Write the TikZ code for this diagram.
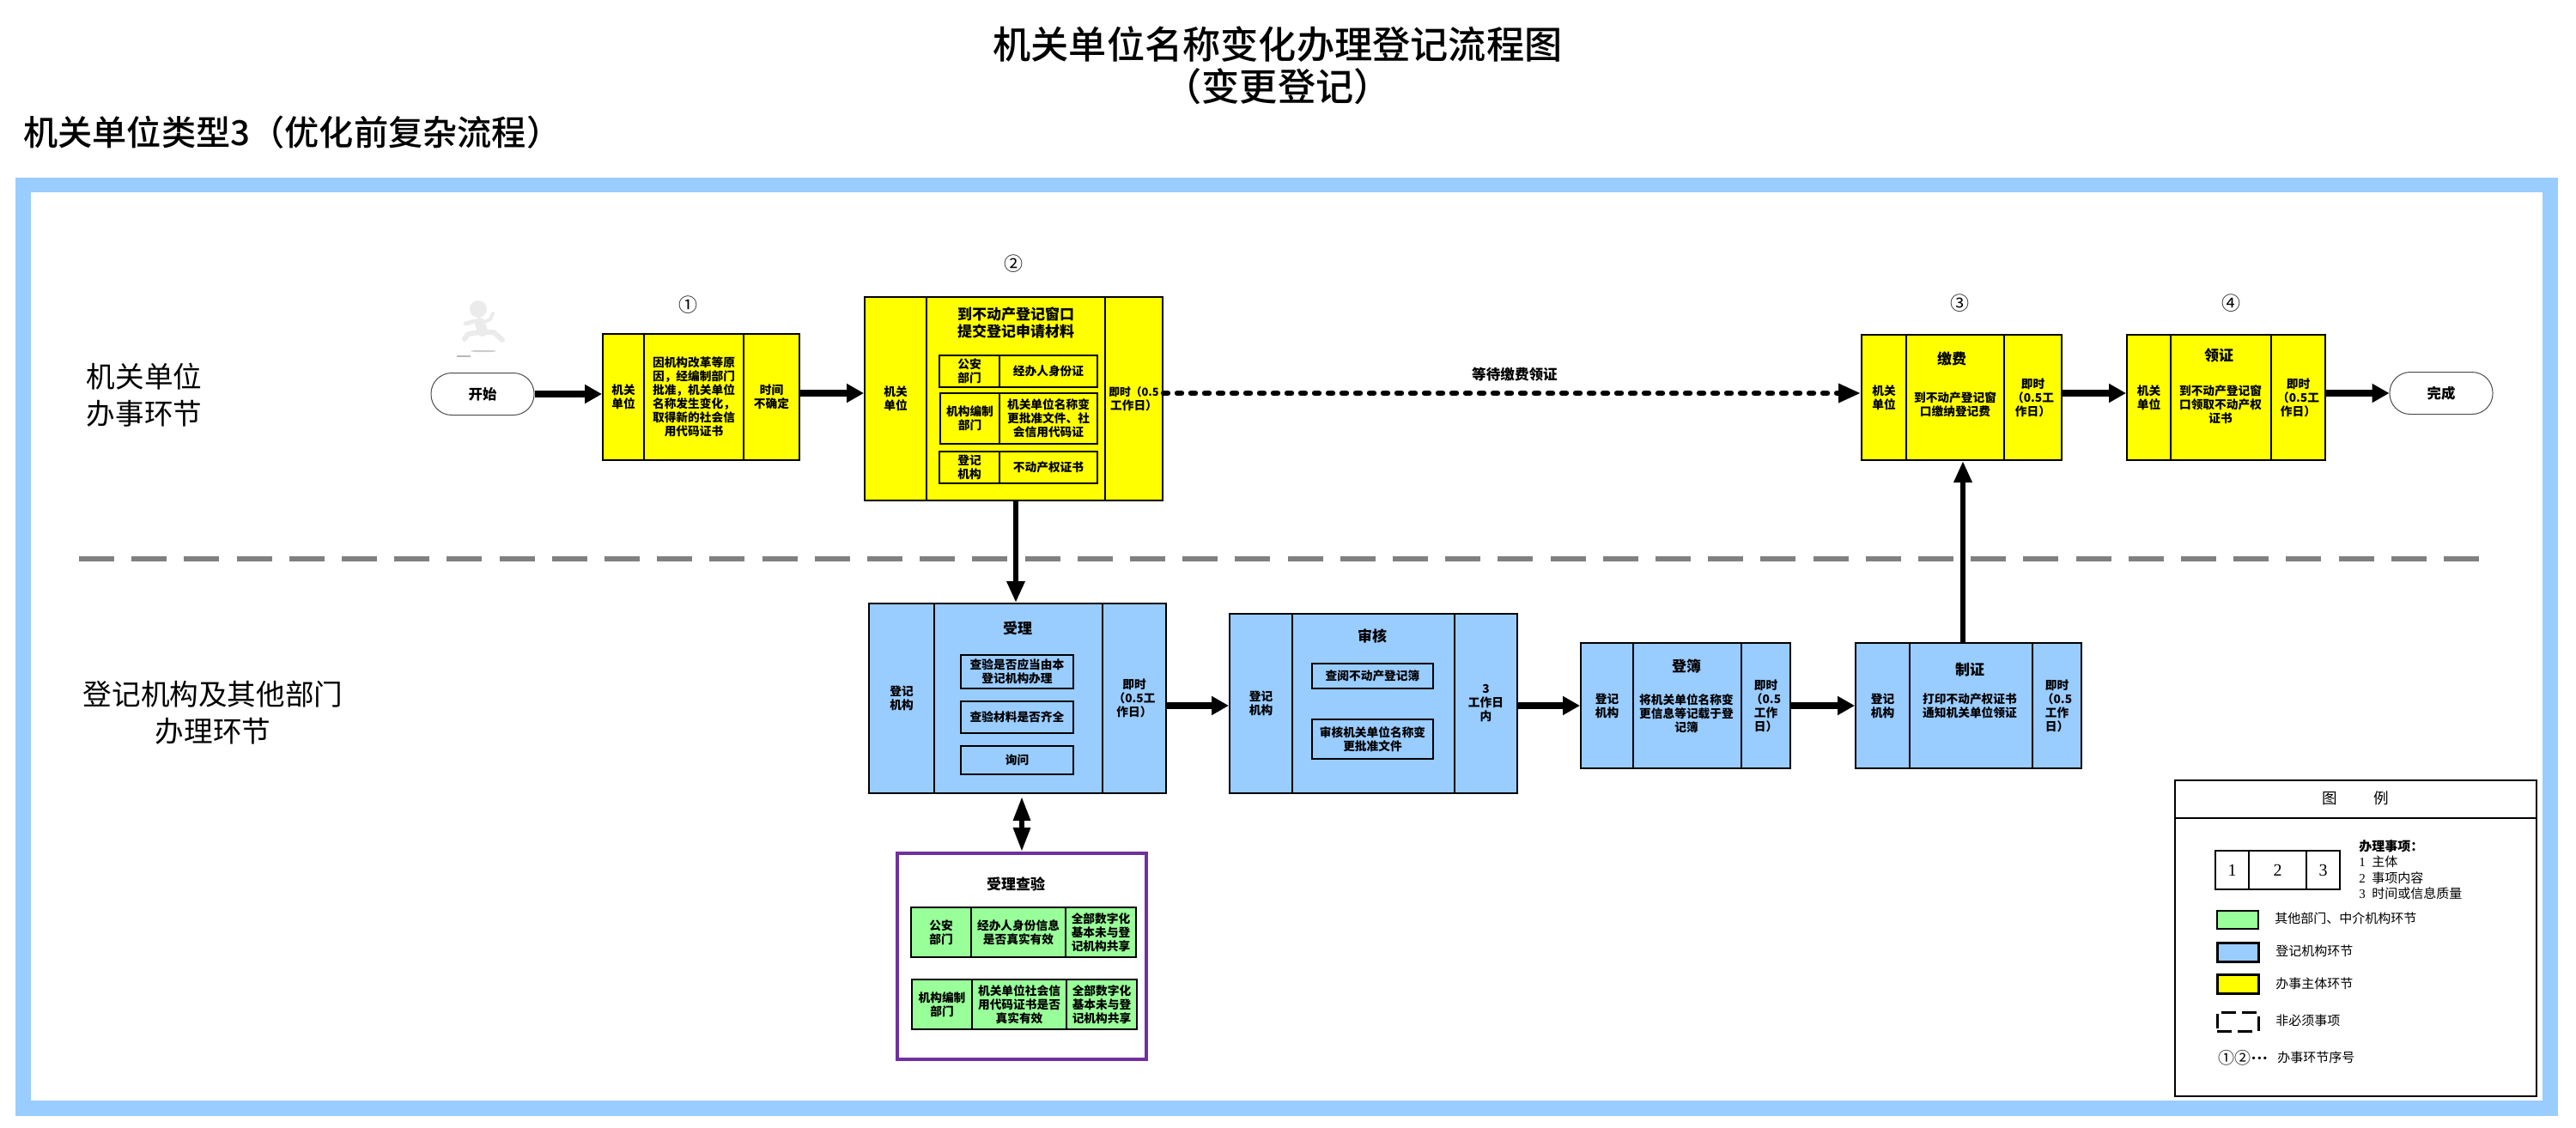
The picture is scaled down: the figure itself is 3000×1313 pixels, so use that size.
\documentclass[tikz,border=0pt]{standalone}
\usepackage{fontspec}
\setmainfont{Noto Sans CJK SC}
\newfontfamily\midfont{Noto Sans CJK SC Medium}
\newfontfamily\digitfont{Liberation Serif}
\usetikzlibrary{arrows.meta}
\definecolor{fyellow}{HTML}{FFFF00}
\definecolor{fblue}{HTML}{99CCFF}
\definecolor{fgreen}{HTML}{99FF99}
\definecolor{fpurple}{HTML}{7030A0}
\definecolor{fgrey}{HTML}{808080}
\newcommand\bodyfont{\fontsize{6.85}{8}\selectfont\bfseries}
\newcommand\headfont{\fontsize{8.5}{10}\selectfont\bfseries}
\newcommand\legfont{\fontsize{7.5}{9}\selectfont}
\newcommand\cellbox[7]{\node[#6,minimum width={(#3-#2)*0.5pt},minimum height={(#5-#4)*0.5pt}] (#1) at ({(#2+#3)/2},{(#4+#5)/2}) {#7};}
\tikzset{
  cellbase/.style={draw=black,line width=1pt,align=center,inner sep=0pt,font=\bodyfont},
  ycell/.style={cellbase,fill=fyellow},
  bcell/.style={cellbase,fill=fblue},
  gcell/.style={cellbase,fill=fgreen},
  wcell/.style={cellbase,fill=white,line width=0.8pt,font=\digitfont\fontsize{10}{12}\selectfont},
  plain/.style={align=center,inner sep=0pt,font=\bodyfont},
  head/.style={align=center,inner sep=0pt,font=\headfont},
  seq/.style={inner sep=0pt,font=\fontsize{11}{12}\selectfont},
  sect/.style={align=center,inner sep=0pt,font=\fontsize{16.8}{21.5}\selectfont},
  leg/.style={anchor=west,inner sep=0pt,font=\legfont},
  term/.style={draw=black!70,line width=0.5pt,fill=white,rounded corners=12pt,inner sep=0pt,font=\fontsize{8.2}{10}\selectfont\bfseries},
  flow/.style={line width=3.6pt,-{Triangle[length=10pt,width=10.5pt]}},
  flowup/.style={line width=3.3pt,-{Triangle[length=12.5pt,width=10pt]}},
  flowdots/.style={line width=3.2pt,line cap=round,dash pattern=on 2.5pt off 5.5pt,-{Triangle[length=13pt,width=10.5pt,line cap=butt]}},
  flowboth/.style={line width=3pt,{Triangle[length=14pt,width=9.5pt]}-{Triangle[length=14pt,width=9.5pt]}},
  limb/.style={line width=3pt,line cap=round,line join=round,draw=black!8},
}
\begin{document}
\begin{tikzpicture}[x=0.5pt,y=-0.5pt]
\useasboundingbox (0,0) rectangle (3000,1313);
% headings
\node[align=center,inner sep=0pt,font=\midfont\fontsize{22.1}{24.5}\selectfont] (maintitle) at (1488,76) {机关单位名称变化办理登记流程图\\（变更登记）};
\node[anchor=west,inner sep=0pt,font=\midfont\fontsize{20.1}{24}\selectfont] (subtitle) at (27,154) {机关单位类型3（优化前复杂流程）};
% outer frame
\draw[fblue,line width=8.75pt] (27,215.5) rectangle (2970,1291);
% section labels
\node[sect] (secA) at (168,460) {机关单位\\办事环节};
\node[sect] (secB) at (248,830) {登记机构及其他部门\\办理环节};
% separator
\coordinate (sepL) at (92,651);
\coordinate (sepR) at (2888,651);
\draw[fgrey,line width=3pt,dash pattern=on 20.5pt off 10.1pt] (sepL) -- (sepR);
% running figure
\fill[black!8] (557,360) circle (10);
\draw[limb,line width=6pt] (559,376) -- (562,386);
\draw[limb,line width=2.4pt] (553,374) -- (542,377);
\draw[limb,line width=2pt] (566,374) -- (571,372) -- (574,365);
\draw[limb] (560,387) -- (545,389) -- (541,395);
\draw[limb] (566,387) -- (575,387) -- (585,396);
\fill[black!20] (563,409) ellipse (15 and 1.2);
\fill[black!28] (532,414) rectangle (548,416);
% rows
\coordinate (rowA) at (0,458);
\coordinate (rowB) at (0,822);
\coordinate (upX) at (2286,0);
% start / end
\node[term,minimum width=60pt,minimum height=24.5pt] (start) at (562,459) {开始};
\node[term,minimum width=60pt,minimum height=24.5pt] (finish) at (2843,458) {完成};
% box 1
\node[seq] (n1) at (801,355) {①};
\cellbox{b1a}{702}{750}{389}{536}{ycell}{机关\\单位}
\cellbox{b1b}{750}{866}{389}{536}{ycell}{因机构改革等原\\因，经编制部门\\批准，机关单位\\名称发生变化，\\取得新的社会信\\用代码证书}
\cellbox{b1c}{866}{931}{389}{536}{ycell}{时间\\不确定}
% box 2
\node[seq] (n2) at (1180,307) {②};
\cellbox{b2a}{1007}{1079}{346}{583}{ycell}{机关\\单位}
\cellbox{b2b}{1079}{1287}{346}{583}{ycell}{}
\cellbox{b2c}{1287}{1354}{346}{583}{ycell}{\fontsize{6.4}{8}\selectfont 即时（0.5\\工作日）}
\node[head] (b2t) at (1183,376) {到不动产登记窗口\\提交登记申请材料};
\cellbox{r1a}{1094}{1164}{414}{451}{ycell}{公安\\部门}
\cellbox{r1b}{1164}{1278}{414}{451}{ycell}{经办人身份证}
\cellbox{r2a}{1095}{1164}{458}{517}{ycell}{机构编制\\部门}
\cellbox{r2b}{1164}{1278}{458}{517}{ycell}{机关单位名称变\\更批准文件、社\\会信用代码证}
\cellbox{r3a}{1094}{1164}{526}{563}{ycell}{登记\\机构}
\cellbox{r3b}{1164}{1278}{526}{563}{ycell}{不动产权证书}
% box 3
\node[seq] (n3) at (2282,353) {③};
\cellbox{b3a}{2168}{2220}{390}{536}{ycell}{机关\\单位}
\cellbox{b3b}{2220}{2334}{390}{536}{ycell}{}
\cellbox{b3c}{2334}{2401}{390}{536}{ycell}{即时\\（0.5工\\作日）}
\node[head] (b3t) at (2273,418) {缴费};
\node[plain] (b3d) at (2277,471) {到不动产登记窗\\口缴纳登记费};
% box 4
\node[seq] (n4) at (2598,353) {④};
\cellbox{b4a}{2477}{2528}{390}{536}{ycell}{机关\\单位}
\cellbox{b4b}{2528}{2645}{390}{536}{ycell}{}
\cellbox{b4c}{2645}{2708}{390}{536}{ycell}{即时\\（0.5工\\作日）}
\node[head] (b4t) at (2584,414) {领证};
\node[plain] (b4d) at (2586,471) {到不动产登记窗\\口领取不动产权\\证书};
% 受理
\cellbox{sla}{1012}{1088}{703}{924}{bcell}{登记\\机构}
\cellbox{slb}{1088}{1284}{703}{924}{bcell}{}
\cellbox{slc}{1284}{1358}{703}{924}{bcell}{即时\\（0.5工\\作日）}
\node[head] (slt) at (1185,732) {受理};
\cellbox{sl1}{1119}{1250}{763}{802}{bcell}{查验是否应当由本\\登记机构办理}
\cellbox{sl2}{1119}{1250}{817}{854}{bcell}{查验材料是否齐全}
\cellbox{sl3}{1119}{1250}{869}{902}{bcell}{询问}
% 审核
\cellbox{sha}{1432}{1505}{715}{924}{bcell}{登记\\机构}
\cellbox{shb}{1505}{1694}{715}{924}{bcell}{}
\cellbox{shc}{1694}{1767}{715}{924}{bcell}{3\\工作日\\内}
\node[head] (sht) at (1598,741) {审核};
\cellbox{sh1}{1528}{1669}{773}{802}{bcell}{查阅不动产登记簿}
\cellbox{sh2}{1528}{1669}{838}{884}{bcell}{审核机关单位名称变\\更批准文件}
% 登簿
\cellbox{dba}{1841}{1902}{749}{895}{bcell}{登记\\机构}
\cellbox{dbb}{1902}{2028}{749}{895}{bcell}{}
\cellbox{dbc}{2028}{2085}{749}{895}{bcell}{即时\\（0.5\\工作\\日）}
\node[head] (dbt) at (1964,776) {登簿};
\node[plain] (dbd) at (1964,831) {将机关单位名称变\\更信息等记载于登\\记簿};
% 制证
\cellbox{zza}{2161}{2224}{749}{895}{bcell}{登记\\机构}
\cellbox{zzb}{2224}{2367}{749}{895}{bcell}{}
\cellbox{zzc}{2367}{2424}{749}{895}{bcell}{即时\\（0.5\\工作\\日）}
\node[head] (zzt) at (2294,780) {制证};
\node[plain] (zzd) at (2294,822) {打印不动产权证书\\通知机关单位领证};
% 受理查验
\cellbox{pur}{1045}{1335}{994}{1234}{draw=fpurple,line width=2pt,fill=white}{}
\node[head] (purt) at (1183,1030) {受理查验};
\cellbox{g1a}{1061}{1131}{1057}{1115}{gcell}{公安\\部门}
\cellbox{g1b}{1131}{1241}{1057}{1115}{gcell}{经办人身份信息\\是否真实有效}
\cellbox{g1c}{1241}{1323}{1057}{1115}{gcell}{全部数字化\\基本未与登\\记机构共享}
\cellbox{g2a}{1062}{1132}{1141}{1199}{gcell}{机构编制\\部门}
\cellbox{g2b}{1132}{1242}{1141}{1199}{gcell}{机关单位社会信\\用代码证书是否\\真实有效}
\cellbox{g2c}{1242}{1324}{1141}{1199}{gcell}{全部数字化\\基本未与登\\记机构共享}
% connectors
\draw[flow] (start.east) -- (start.east -| b1a.west);
\draw[flow] (b1c.east |- rowA) -- (b2a.west |- rowA);
\draw[flowdots] (b2c.east |- rowA) -- (b3a.west |- rowA);
\node[plain,font=\fontsize{8.3}{10}\selectfont\bfseries] (waitlab) at (1764,436) {等待缴费领证};
\draw[flow] (b3c.east |- rowA) -- (b4a.west |- rowA);
\draw[flow] (b4c.east |- rowA) -- (finish.west);
\draw[flowup] (upX |- zzb.north) -- (upX |- b3b.south);
\draw[flowup] (b2b.south) -- (b2b.south |- slb.north);
\draw[flow] (slc.east |- rowB) -- (sha.west |- rowB);
\draw[flow] (shc.east |- rowB) -- (dba.west |- rowB);
\draw[flow] (dbc.east |- rowB) -- (zza.west |- rowB);
\draw[flowboth,shorten <=1.5pt] (pur.north |- slb.south) -- (pur.north);
% legend
\cellbox{legbox}{2533}{2954}{909}{1277}{draw=black,line width=1pt,fill=white}{}
\coordinate (legL) at (2533,953);
\coordinate (legR) at (2954,953);
\draw[line width=1pt] (legL) -- (legR);
\node[inner sep=0pt,font=\fontsize{8.8}{10}\selectfont] (legt) at (2743.5,930) {图\hspace{21pt}例};
\cellbox{le1}{2580}{2619}{991}{1036}{wcell}{1}
\cellbox{le2}{2619}{2686}{991}{1036}{wcell}{2}
\cellbox{le3}{2686}{2725}{991}{1036}{wcell}{3}
\node[leg,font=\legfont\bfseries] (li0) at (2747,986) {办理事项：};
\node[leg] (li1) at (2747,1004) {\makebox[7.5pt][l]{\digitfont 1}主体};
\node[leg] (li2) at (2747,1023) {\makebox[7.5pt][l]{\digitfont 2}事项内容};
\node[leg] (li3) at (2747,1041) {\makebox[7.5pt][l]{\digitfont 3}时间或信息质量};
\cellbox{sg}{2582}{2630}{1061}{1082}{draw=black,line width=1.2pt,fill=fgreen}{}
\node[leg] (lg) at (2649,1070) {其他部门、中介机构环节};
\cellbox{sb}{2582}{2630}{1098}{1120}{draw=black,line width=1.5pt,fill=fblue}{}
\node[leg] (lb) at (2650,1108) {登记机构环节};
\cellbox{sy}{2582}{2630}{1135}{1157}{draw=black,line width=1.5pt,fill=fyellow}{}
\node[leg] (ly) at (2650,1146) {办事主体环节};
\cellbox{sd}{2582}{2630}{1179}{1201}{draw=black,line width=1.5pt,dash pattern=on 8.5pt off 3.5pt}{}
\node[leg] (ld) at (2650,1189) {非必须事项};
\node[leg,font=\fontsize{9.5}{10}\selectfont] (lnum) at (2583,1232) {①②{\digitfont\fontsize{10}{10}\selectfont\bfseries ···}};
\node[leg] (ln) at (2652,1232) {办事环节序号};
\end{tikzpicture}
\end{document}
